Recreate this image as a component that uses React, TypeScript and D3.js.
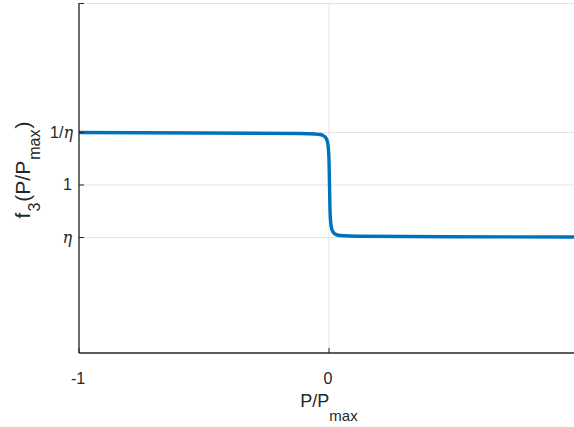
import React from "react";
import * as d3 from "d3";

const ETA = 0.5;
// curve samples: x = P/Pmax, f = f3 value (exponent of 1/eta)
const xs = [-1, -0.516, -0.116, -0.056, -0.036, -0.02, -0.01, -0.004, 0, 0.002, 0.004, 0.008, 0.014, 0.024, 0.044, 0.124, 0.484, 1.0];
const us = [1.0, 0.99, 0.981, 0.971, 0.962, 0.933, 0.876, 0.762, 0.476, 0, -0.476, -0.762, -0.876, -0.933, -0.962, -0.977, -0.987, -0.99];
const fs = us.map((u) => Math.pow(1 / ETA, u));

const xTicks = [-1, 0];
const xTickLabels = ["-1", "0"];
const yTicks = [ETA, 1, 1 / ETA];
const yTickLabels = ["η", "1", "1/η"];

const W = 574, H = 427;
const L = 79, R = 579, T = 3.5, B = 353;

export default function App() {
  const x = d3.scaleLinear().domain([-1, 1]).range([L, R]);
  const y = d3.scaleLog().base(2).domain([Math.pow(2, -3.2), Math.pow(2, 3.457)]).range([B, T]);
  const pts: [number, number][] = xs.map((v, i) => [v, fs[i]]);
  const line = d3.line<[number, number]>().x((d) => x(d[0])).y((d) => y(d[1])).curve(d3.curveMonotoneX);
  const grid = "#e3e3e3";
  const ax = "#262626";
  const font = "Liberation Sans, Arial, sans-serif";
  const serif = "DejaVu Serif, Liberation Serif, serif";
  return (
    <svg width={W} height={H} style={{ position: "absolute", left: 0, top: 0, background: "#fff" }}>
      <defs>
        <clipPath id="pc"><rect x={L} y={T} width={R - L} height={B - T} /></clipPath>
      </defs>
      <rect x={0} y={0} width={W} height={H} fill="#fff" />
      {/* grid */}
      {xTicks.map((t) => (
        <line key={"gx" + t} x1={x(t)} x2={x(t)} y1={T} y2={B} stroke={grid} strokeWidth={1} />
      ))}
      {yTicks.map((t) => (
        <line key={"gy" + t} x1={L} x2={R} y1={y(t)} y2={y(t)} stroke={grid} strokeWidth={1} />
      ))}
      <line x1={L} x2={R} y1={T} y2={T} stroke={grid} strokeWidth={1} />
      {/* curve */}
      <path d={line(pts) || ""} fill="none" stroke="#0072BD" strokeWidth={3.4} clipPath="url(#pc)" />
      {/* axes */}
      <line x1={L} x2={L} y1={T - 0.5} y2={B} stroke={ax} strokeWidth={1.3} />
      <line x1={L} x2={R} y1={B} y2={B} stroke={ax} strokeWidth={1.3} />
      {xTicks.map((t) => (
        <line key={"tx" + t} x1={x(t)} x2={x(t)} y1={B} y2={B - 5} stroke={ax} strokeWidth={1} />
      ))}
      {yTicks.map((t) => (
        <line key={"ty" + t} x1={L} x2={L + 5} y1={y(t)} y2={y(t)} stroke={ax} strokeWidth={1} />
      ))}
      <line x1={L} x2={L + 5} y1={T} y2={T} stroke={ax} strokeWidth={1} />
      {/* x tick labels */}
      {xTicks.map((t, i) => (
        <text key={"lx" + t} x={x(t) - 1} y={383.5} textAnchor="middle" fontFamily={font} fontSize={16} fill={ax}>
          {xTickLabels[i]}
        </text>
      ))}
      {/* y tick labels */}
      {yTicks.map((t, i) => {
        const lab = yTickLabels[i];
        const yy = y(t) + 5.5;
        if (lab === "η")
          return (
            <text key={"ly" + i} x={72} y={yy} textAnchor="end" fontFamily={serif} fontStyle="italic" fontSize={16} fill={ax}>η</text>
          );
        if (lab === "1/η")
          return (
            <text key={"ly" + i} x={73} y={yy} textAnchor="end" fontFamily={font} fontSize={16} fill={ax}>
              1/<tspan fontFamily={serif} fontStyle="italic">η</tspan>
            </text>
          );
        return (
          <text key={"ly" + i} x={72} y={yy} textAnchor="end" fontFamily={font} fontSize={16} fill={ax}>{lab}</text>
        );
      })}
      {/* x label */}
      <text x={329} y={406.5} textAnchor="middle" fontFamily={font} fontSize={18} fill={ax}>
        P/P<tspan fontSize={15} dy={14}>max</tspan>
      </text>
      {/* y label */}
      <text transform="translate(30,170) rotate(-90)" textAnchor="middle" fontFamily={font} fontSize={21} fill={ax}>
        f<tspan fontSize={16} dy={10} dx={1}>3</tspan>
        <tspan dy={-10} dx={1}>(P/P</tspan>
        <tspan fontSize={16} dy={10} dx={1}>max</tspan>
        <tspan dy={-10} dx={1}>)</tspan>
      </text>
    </svg>
  );
}
